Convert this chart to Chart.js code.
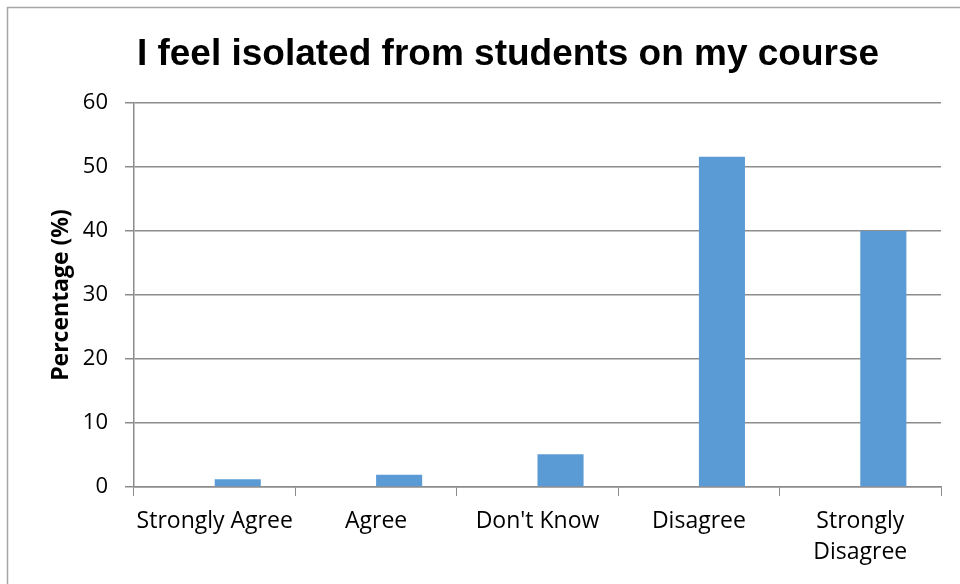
<!DOCTYPE html>
<html>
<head>
<meta charset="utf-8">
<script src="https://cdn.jsdelivr.net/npm/chart.js@4"></script>
<style>
    html, body { margin: 0; padding: 0; background: #fff; }
    #wrap { width: 960px; height: 584px; }
</style>
</head>
<body>
<div id="wrap"><canvas id="isolationChart" width="960" height="584"></canvas></div>
<script>
    const chartTitle = 'I feel isolated from students on my course';
    const categories = ['Strongly Agree', 'Agree', "Don't Know", 'Disagree', ['Strongly', 'Disagree']];
    // the first series of the survey sheet is empty, the second holds the answers
    const emptySeries = [null, null, null, null, null];
    const percentages = [1.2, 1.9, 5.1, 51.6, 40.0];
    const yTicks = [0, 10, 20, 30, 40, 50, 60];

    const axisGrey = '#8c8c8c';

    // light frame round the chart (open to the right and bottom) and the heading
    const chartFrame = {
        id: 'chartFrame',
        beforeDraw: function (chart) {
            var ctx = chart.ctx;
            ctx.save();
            ctx.strokeStyle = '#a6a6a6';
            ctx.lineWidth = 1.5;
            ctx.strokeRect(7.5, 7.5, 1000, 1000);
            ctx.fillStyle = '#000';
            ctx.font = 'bold 37px "Liberation Sans"';
            ctx.textAlign = 'center';
            ctx.textBaseline = 'alphabetic';
            ctx.fillText(chartTitle, 508, 65);
            ctx.restore();
        }
    };

    let canvas = document.getElementById('isolationChart');
    let isolationChart = new Chart(canvas, {
        type: 'bar',
        data: {
            labels: categories,
            datasets: [{
                label: 'Series1',
                data: emptySeries,
                backgroundColor: '#5B9BD5'
            }, {
                label: 'Series2',
                data: percentages,
                backgroundColor: '#5B9BD5'
            }]
        },
        options: {
            responsive: false,
            animation: false,
            categoryPercentage: 0.571,
            barPercentage: 1.0,
            layout: { padding: { left: 0, right: 19, top: 103, bottom: 0 } },
            plugins: {
                legend: { display: false },
                tooltip: { enabled: false },
                title: { display: false }
            },
            scales: {
                x: {
                    grid: {
                        offset: true,
                        drawOnChartArea: false,
                        color: axisGrey,
                        tickLength: 9
                    },
                    border: { color: axisGrey, width: 1.5 },
                    ticks: {
                        color: '#000',
                        font: { family: 'Open Sans', size: 23, lineHeight: 1.35 },
                        padding: 10,
                        maxRotation: 0,
                        autoSkip: false
                    },
                    afterFit: function (scale) {
                        scale.height = 97;
                    }
                },
                y: {
                    min: 0,
                    max: 60,
                    afterBuildTicks: function (scale) {
                        scale.ticks = yTicks.map(function (v) { return { value: v }; });
                    },
                    grid: {
                        color: axisGrey,
                        lineWidth: 1.5,
                        tickLength: 9
                    },
                    border: { color: axisGrey, width: 1.5 },
                    ticks: {
                        color: '#000',
                        font: { family: 'Open Sans', size: 22 },
                        padding: 17
                    },
                    title: {
                        display: true,
                        text: 'Percentage (%)',
                        color: '#000',
                        font: { family: 'Open Sans', size: 23, weight: 'bold', lineHeight: 1.2 },
                        padding: { top: 48, bottom: 0 }
                    },
                    afterFit: function (scale) {
                        scale.width = 134;
                    }
                }
            }
        },
        plugins: [chartFrame]
    });
</script>
</body>
</html>
